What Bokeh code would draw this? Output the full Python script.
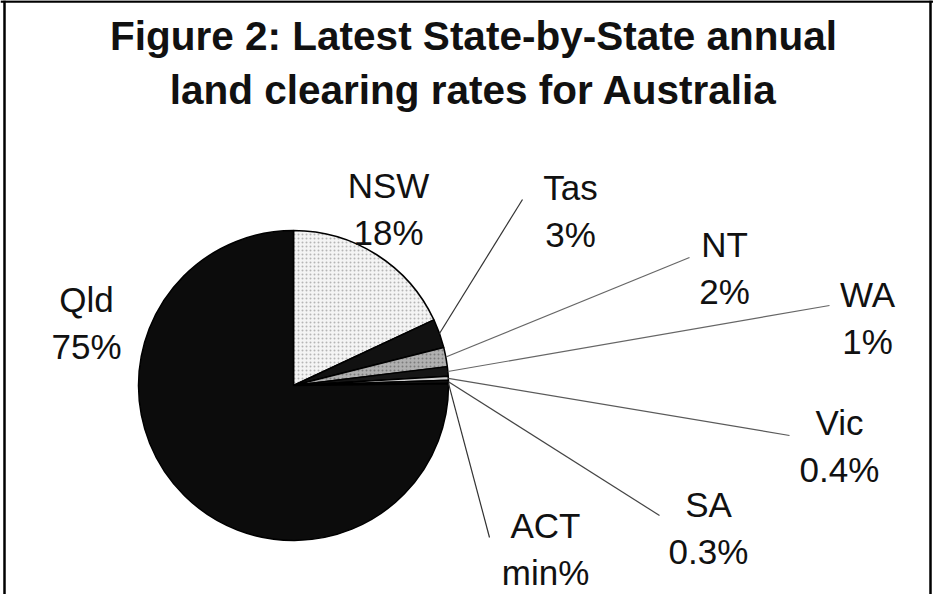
import math
from bokeh.plotting import figure
from bokeh.models import Range1d, Span, ColumnDataSource
from bokeh.core.properties import value
from bokeh.embed import file_html
from bokeh.resources import INLINE

# ---- data (clockwise from 12 o'clock) ----
states = ["NSW", "Tas", "NT", "WA", "Vic", "SA", "ACT", "Qld"]
shares = [18, 3, 2, 1, 0.4, 0.3, 0.05, 75]
share_labels = ["18%", "3%", "2%", "1%", "0.4%", "0.3%", "min%", "75%"]
title_lines = ["Figure 2: Latest State-by-State annual",
               "land clearing rates for Australia"]

# ---- styling / layout ----
slice_colors = ["#f4f4f4", "#111111", "#b0b0b0", "#161616", "#cfcfcf", "#161616", "#cfcfcf", "#0c0c0c"]
slice_hatch = [".", " ", ".", " ", " ", " ", " ", " "]
slice_hatch_col = ["#8a8a8a", "#000000", "#5a5a5a", "#000000", "#000000", "#000000", "#000000", "#000000"]
# label anchor (centre x, baseline of first line) in page pixels
label_pos = [(396, 193), (578, 195), (732, 252), (875, 302),
             (847, 430), (716, 512), (553, 533), (94, 307)]
# leader line end points (page pixels), None = no leader
leader_end = [None, (530, 207), (697, 265), (837, 313),
              (797, 443), (667, 523), (497, 545), None]
leader_colors = ["#333333", "#666666", "#666666", "#5a5a5a", "#444444", "#333333"]

PAGE_H = 610
W, H = 933, 594
CX, CY, R = 301, 393, 155
FONT = "Liberation Sans"


def Y(y_img):
    return PAGE_H - y_img


p = figure(width=W, height=H, output_backend="svg", toolbar_location=None,
           x_range=Range1d(8, 8 + W), y_range=Range1d(PAGE_H - 8 - H, PAGE_H - 8),
           min_border=0, outline_line_color=None)
p.axis.visible = False
p.grid.visible = False
p.background_fill_color = "white"
p.border_fill_color = "white"

# frame lines (left, top, right)
for loc, dim in [(12, "height"), (938, "height"), (Y(9), "width")]:
    p.add_layout(Span(location=loc, dimension=dim, line_color="black", line_width=2.5))

# title
p.text(x=[481, 481], y=[Y(43), Y(97)], text=title_lines,
       text_font=value(FONT), text_font_style="bold", text_font_size="40.5px",
       text_align="center", text_baseline="alphabetic", text_color="#111111")

# pie
total = sum(shares)
starts, ends, mids = [], [], []
cum = 0.0
for s in shares:
    a0 = math.pi / 2 - 2 * math.pi * cum / total
    cum += s
    a1 = math.pi / 2 - 2 * math.pi * cum / total
    starts.append(a0)
    ends.append(a1)
    mids.append((a0 + a1) / 2)

src = ColumnDataSource(dict(state=states, start=starts, end=ends, color=slice_colors,
                            hatch=slice_hatch, hatch_col=slice_hatch_col))
p.wedge(x=CX, y=Y(CY), radius=R, start_angle="start", end_angle="end",
        direction="clock", fill_color="color", line_color="black", line_width=1.5,
        hatch_pattern="hatch", hatch_color="hatch_col", hatch_scale=4, hatch_alpha=0.6,
        source=src)

# leader lines
xs, ys = [], []
for m, e in zip(mids, leader_end):
    if e is None:
        continue
    xs.append([CX + R * math.cos(m), e[0]])
    ys.append([Y(CY) + R * math.sin(m), Y(e[1])])
p.multi_line(xs=xs, ys=ys, line_color=leader_colors, line_width=1.2)

# labels
lx = [pos[0] for pos in label_pos]
p.text(x=lx, y=[Y(pos[1]) for pos in label_pos], text=states,
       text_font=value(FONT), text_font_size="35px", text_align="center",
       text_baseline="alphabetic", text_color="#111111")
p.text(x=lx, y=[Y(pos[1] + 47) for pos in label_pos], text=share_labels,
       text_font=value(FONT), text_font_size="35px", text_align="center",
       text_baseline="alphabetic", text_color="#111111")

open("out.html", "w").write(file_html(p, INLINE))
